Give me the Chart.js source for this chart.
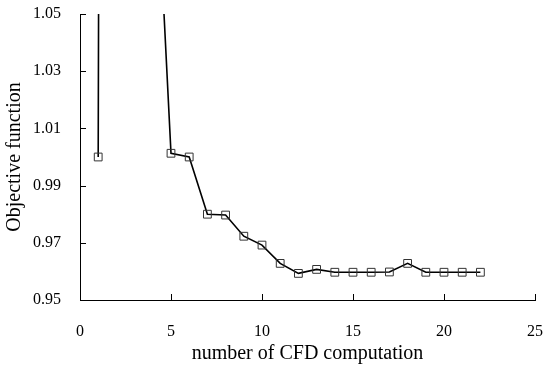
<!DOCTYPE html>
<html>
<head>
<meta charset="utf-8">
<script src="https://cdn.jsdelivr.net/npm/chart.js@4/dist/chart.umd.min.js"></script>
<style>
html,body{margin:0;padding:0;background:#fff;}
#wrap{width:547px;height:376px;}
</style>
</head>
<body>
<div id="wrap"><canvas id="c" width="547" height="376"></canvas></div>
<script>
const iterations = [1,2,3,4,5,6,7,8,9,10,11,12,13,14,15,16,17,18,19,20,21,22];
const objective = [1.000,3.5,1.5,1.128,1.0013,1.000,0.980,0.9797,0.9723,0.9692,0.9628,0.9593,0.9607,0.9597,0.9597,0.9597,0.9598,0.9628,0.9597,0.9597,0.9597,0.9597];
const xTicks = [0,5,10,15,20,25];
const yTicks = [0.95,0.97,0.99,1.01,1.03,1.05];

const FONT = "'Liberation Serif','Times New Roman',serif";

const inwardTicks = {
  id:'inwardTicks',
  afterDraw(chart){
    const ctx = chart.ctx, x = chart.scales.x, y = chart.scales.y;
    ctx.save();
    ctx.strokeStyle = '#000';
    ctx.lineWidth = 1;
    ctx.beginPath();
    xTicks.forEach(v=>{
      const px = Math.round(x.getPixelForValue(v))+0.5;
      ctx.moveTo(px, y.bottom); ctx.lineTo(px, y.bottom-6);
    });
    yTicks.forEach(v=>{
      const py = Math.round(y.getPixelForValue(v))+0.5;
      ctx.moveTo(x.left, py); ctx.lineTo(x.left+6, py);
    });
    ctx.stroke();
    ctx.restore();
  }
};

new Chart(document.getElementById('c'), {
  type:'line',
  data:{
    datasets:[{
      data: iterations.map((v,i)=>({x:v,y:objective[i]})),
      borderColor:'#000',
      borderWidth:1.6,
      pointStyle:'rect',
      pointRadius:5.5,
      pointBorderColor:'#333',
      pointBorderWidth:1,
      pointBackgroundColor:'rgba(0,0,0,0)',
      fill:false,
      tension:0
    }]
  },
  options:{
    responsive:false,
    animation:false,
    layout:{padding:{left:0,right:0,top:0,bottom:0}},
    plugins:{legend:{display:false},tooltip:{enabled:false}},
    scales:{
      x:{
        type:'linear',min:0,max:25,
        afterBuildTicks(s){ s.ticks = xTicks.map(v=>({value:v})); },
        afterFit(s){ s.height = 76; s.paddingLeft = 0; s.paddingRight = 12; },
        grid:{display:true,drawOnChartArea:false,drawTicks:false},
        border:{display:true,color:'#000',width:1},
        ticks:{padding:22,color:'#000',font:{family:FONT,size:16},maxRotation:0},
        title:{display:true,text:'number of CFD computation',color:'#000',font:{family:FONT,size:20},padding:{top:0,bottom:10}}
      },
      y:{
        type:'linear',min:0.95,max:1.05,
        afterBuildTicks(s){ s.ticks = yTicks.map(v=>({value:v})); },
        afterFit(s){ s.width = 80; s.paddingTop = 14; s.paddingBottom = 0; },
        grid:{display:true,drawOnChartArea:false,drawTicks:false},
        border:{display:true,color:'#000',width:1},
        ticks:{padding:19,color:'#000',font:{family:FONT,size:16},callback:v=>v.toFixed(2)},
        title:{display:true,text:'Objective function',color:'#000',font:{family:FONT,size:20},padding:3}
      }
    }
  },
  plugins:[inwardTicks]
});
</script>
</body>
</html>
